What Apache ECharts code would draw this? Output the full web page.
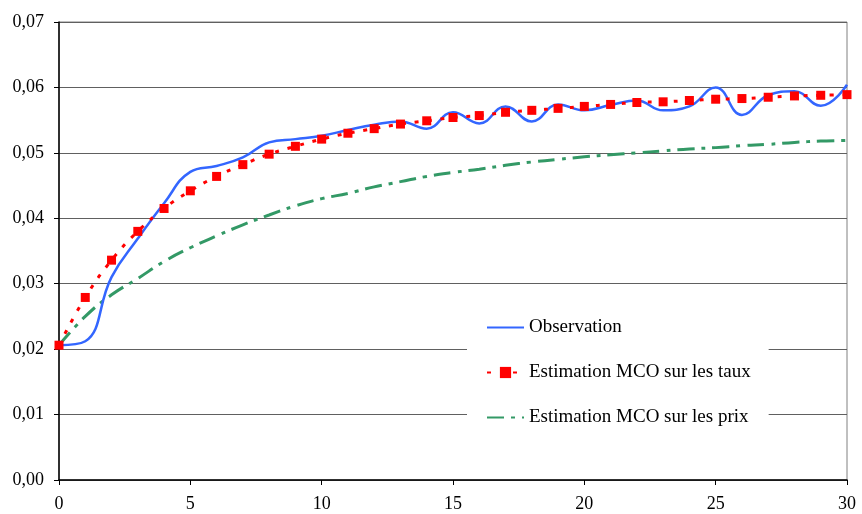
<!DOCTYPE html>
<html>
<head>
<meta charset="utf-8">
<script src="https://cdn.jsdelivr.net/npm/echarts@6/dist/echarts.min.js"></script>
<style>
  html, body { margin: 0; padding: 0; background: #fff; }
  #chart { width: 862px; height: 514px; }
</style>
</head>
<body>
<div id="chart"></div>
<script>
// maturités 0..30
var maturites = [0, 1, 2, 3, 4, 5, 6, 7, 8, 9, 10, 11, 12, 13, 14, 15, 16, 17, 18, 19, 20, 21, 22, 23, 24, 25, 26, 27, 28, 29, 30];

var observation = [0.0206, 0.0212, 0.0310, 0.0369, 0.0423, 0.0471, 0.0480, 0.0493, 0.0516, 0.0521, 0.0526,
    0.0535, 0.0543, 0.0548, 0.0537, 0.0562, 0.0545, 0.0571, 0.0548, 0.0574, 0.0565,
    0.0573, 0.0580, 0.0565, 0.0571, 0.0600, 0.0558, 0.0588, 0.0594, 0.0572, 0.0604];

var mcoTaux = [0.0206, 0.0279, 0.0336, 0.0380, 0.0415, 0.0442, 0.0464, 0.0482, 0.0498, 0.0510, 0.0521,
    0.0530, 0.0537, 0.0544, 0.0549, 0.0554, 0.0557, 0.0562, 0.0565, 0.0568, 0.0571,
    0.0574, 0.0577, 0.0578, 0.0580, 0.0582, 0.0583, 0.0585, 0.0587, 0.0588, 0.0589];

var mcoPrix = [0.0206, 0.0250, 0.0283, 0.0308, 0.0334, 0.0355, 0.0373, 0.0390, 0.0405, 0.0419, 0.0430,
    0.0438, 0.0448, 0.0456, 0.0464, 0.0470, 0.0475, 0.0481, 0.0486, 0.0490, 0.0494,
    0.0497, 0.0500, 0.0503, 0.0506, 0.0508, 0.0511, 0.0513, 0.0516, 0.0518, 0.0519];

var noms = ['Observation', 'Estimation MCO sur les taux', 'Estimation MCO sur les prix'];

var paires = function (ys) {
    return maturites.map(function (x, i) { return [x, ys[i]]; });
};

var police = '"Liberation Serif", "Times New Roman", serif';

var chart = echarts.init(document.getElementById('chart'));
chart.setOption({
    animation: false,
    backgroundColor: '#fff',
    grid: {
        left: 59, right: 15, top: 22, bottom: 34,
        show: true, borderColor: '#808080', borderWidth: 1
    },
    legend: {
        // pas de pastille pour les courbes sans marqueur
        data: [
            { name: noms[0], itemStyle: { opacity: 0 } },
            { name: noms[1] },
            { name: noms[2], itemStyle: { opacity: 0 } }
        ],
        orient: 'vertical',
        left: 467,
        top: 302,
        padding: [16, 18, 16, 19],
        itemWidth: 37,
        itemHeight: 14,
        itemGap: 26,
        backgroundColor: '#fff',
        textStyle: { fontFamily: police, fontSize: 19, color: '#000' }
    },
    xAxis: {
        type: 'value',
        min: 0, max: 30, interval: 5,
        axisLine: { lineStyle: { color: '#000', width: 1.5 } },
        axisTick: { show: true, length: 5, lineStyle: { color: '#000' } },
        axisLabel: { fontFamily: police, fontSize: 18, color: '#000', margin: 15 },
        splitLine: { show: false }
    },
    yAxis: {
        type: 'value',
        min: 0, max: 0.07, interval: 0.01,
        axisLine: { show: true, lineStyle: { color: '#000', width: 1.5 } },
        axisTick: { show: true, length: 5, lineStyle: { color: '#000' } },
        axisLabel: {
            fontFamily: police, fontSize: 18, color: '#000', margin: 15,
            formatter: function (v) { return v.toFixed(2).replace('.', ','); }
        },
        splitLine: { lineStyle: { color: '#606060', width: 1.2 } }
    },
    series: [
        {
            name: noms[0],
            type: 'line',
            data: paires(observation),
            smooth: 0.45,
            symbol: 'none',
            lineStyle: { color: '#3366FF', width: 2.5 },
            itemStyle: { color: '#3366FF' },
            z: 3
        },
        {
            name: noms[1],
            type: 'line',
            data: paires(mcoTaux),
            smooth: 0.45,
            symbol: 'rect',
            symbolSize: 9,
            lineStyle: { color: '#FF0000', width: 3, type: [4, 9] },
            itemStyle: { color: '#FF0000' },
            z: 4
        },
        {
            name: noms[2],
            type: 'line',
            data: paires(mcoPrix),
            smooth: 0.45,
            symbol: 'none',
            lineStyle: { color: '#339966', width: 3, type: [17, 7, 4, 7] },
            itemStyle: { color: '#339966' },
            z: 2
        }
    ]
});
</script>
</body>
</html>
